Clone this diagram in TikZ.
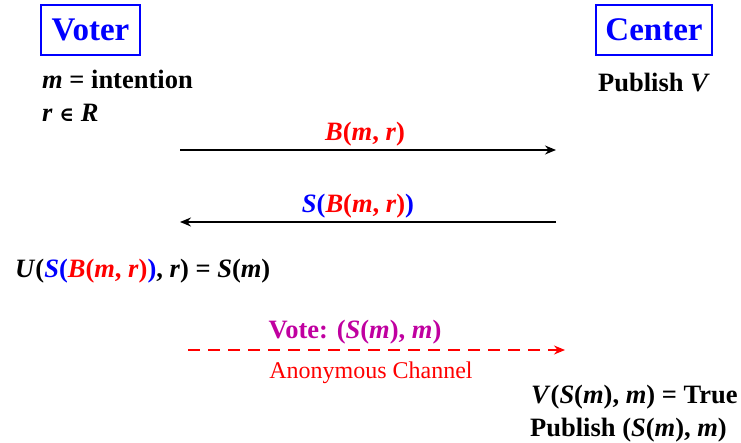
\documentclass[tikz,border=0pt]{standalone}
\usepackage{fontspec}
\setmainfont{Liberation Serif}
\newfontfamily\symf{DejaVu Serif}
\usetikzlibrary{arrows.meta}
\definecolor{vblue}{RGB}{0,0,255}
\definecolor{vred}{RGB}{255,0,0}
\definecolor{vpurple}{RGB}{192,0,160}
\newcommand{\bi}[1]{\textbf{\textit{#1}}}
\begin{document}
\begin{tikzpicture}[x=1pt,y=-1pt,
  actor/.style={draw=vblue,line width=1.8pt,text=vblue,font=\fontsize{33}{36}\selectfont\bfseries,inner sep=0pt,minimum height=50pt},
  txt/.style={inner sep=0pt,font=\fontsize{26.5}{30}\selectfont\bfseries},
  msg/.style={line width=1.5pt,-{Stealth[length=11pt,width=9pt]}},
  lbl/.style={inner sep=0pt,font=\fontsize{26.5}{30}\selectfont\bfseries}]
\useasboundingbox (0,0) rectangle (741,443);
\node[actor,minimum width=99pt] (voter) at (90.5,30) {Voter};
\node[actor,minimum width=116pt] (center) at (654,30) {Center};
\node[txt,anchor=base west] (m) at (42,89) {\bi{m} = intention};
\node[txt,anchor=base west] (r) at (42,122) {\bi{r} {\symf\fontsize{20}{22}\selectfont ∈} \bi{R}};
\node[txt,anchor=base west] (pv) at (598,92) {Publish \bi{V}};
\coordinate (a1s) at (180,150);
\coordinate (a1e) at (556,150);
\draw[msg] (a1s) -- (a1e);
\node[lbl,text=vred,anchor=base] (l1) at (365,141) {\bi{B}(\bi{m}, \bi{r})};
\coordinate (a2s) at (556,222);
\coordinate (a2e) at (180,222);
\draw[msg] (a2s) -- (a2e);
\node[lbl,anchor=base] (l2) at (358,213) {\textcolor{vblue}{\bi{S}(}\textcolor{vred}{\bi{B}(\bi{m}, \bi{r})}\textcolor{vblue}{)}};
\node[txt,anchor=base west] (u) at (15,278) {\bi{U}(\textcolor{vblue}{\bi{S}(}\textcolor{vred}{\bi{B}(\bi{m}, \bi{r})}\textcolor{vblue}{)}, \bi{r}) = \bi{S}(\bi{m})};
\node[lbl,text=vpurple,anchor=base] (l3) at (355,338) {Vote: (\bi{S}(\bi{m}), \bi{m})};
\coordinate (a3s) at (188,350);
\coordinate (a3e) at (565,350);
\draw[msg,draw=vred,dash pattern=on 12pt off 8pt,-{Stealth[length=11pt,width=9pt,fill=vred]}] (a3s) -- (a3e);
\node[inner sep=0pt,text=vred,font=\fontsize{24}{26}\selectfont,anchor=base] (ac) at (371,378) {Anonymous Channel};
\node[txt,anchor=base west] (vt) at (531,403) {\bi{V}(\bi{S}(\bi{m}), \bi{m}) = True};
\node[txt,anchor=base west] (ps) at (530,436) {Publish (\bi{S}(\bi{m}), \bi{m})};
\end{tikzpicture}
\end{document}
